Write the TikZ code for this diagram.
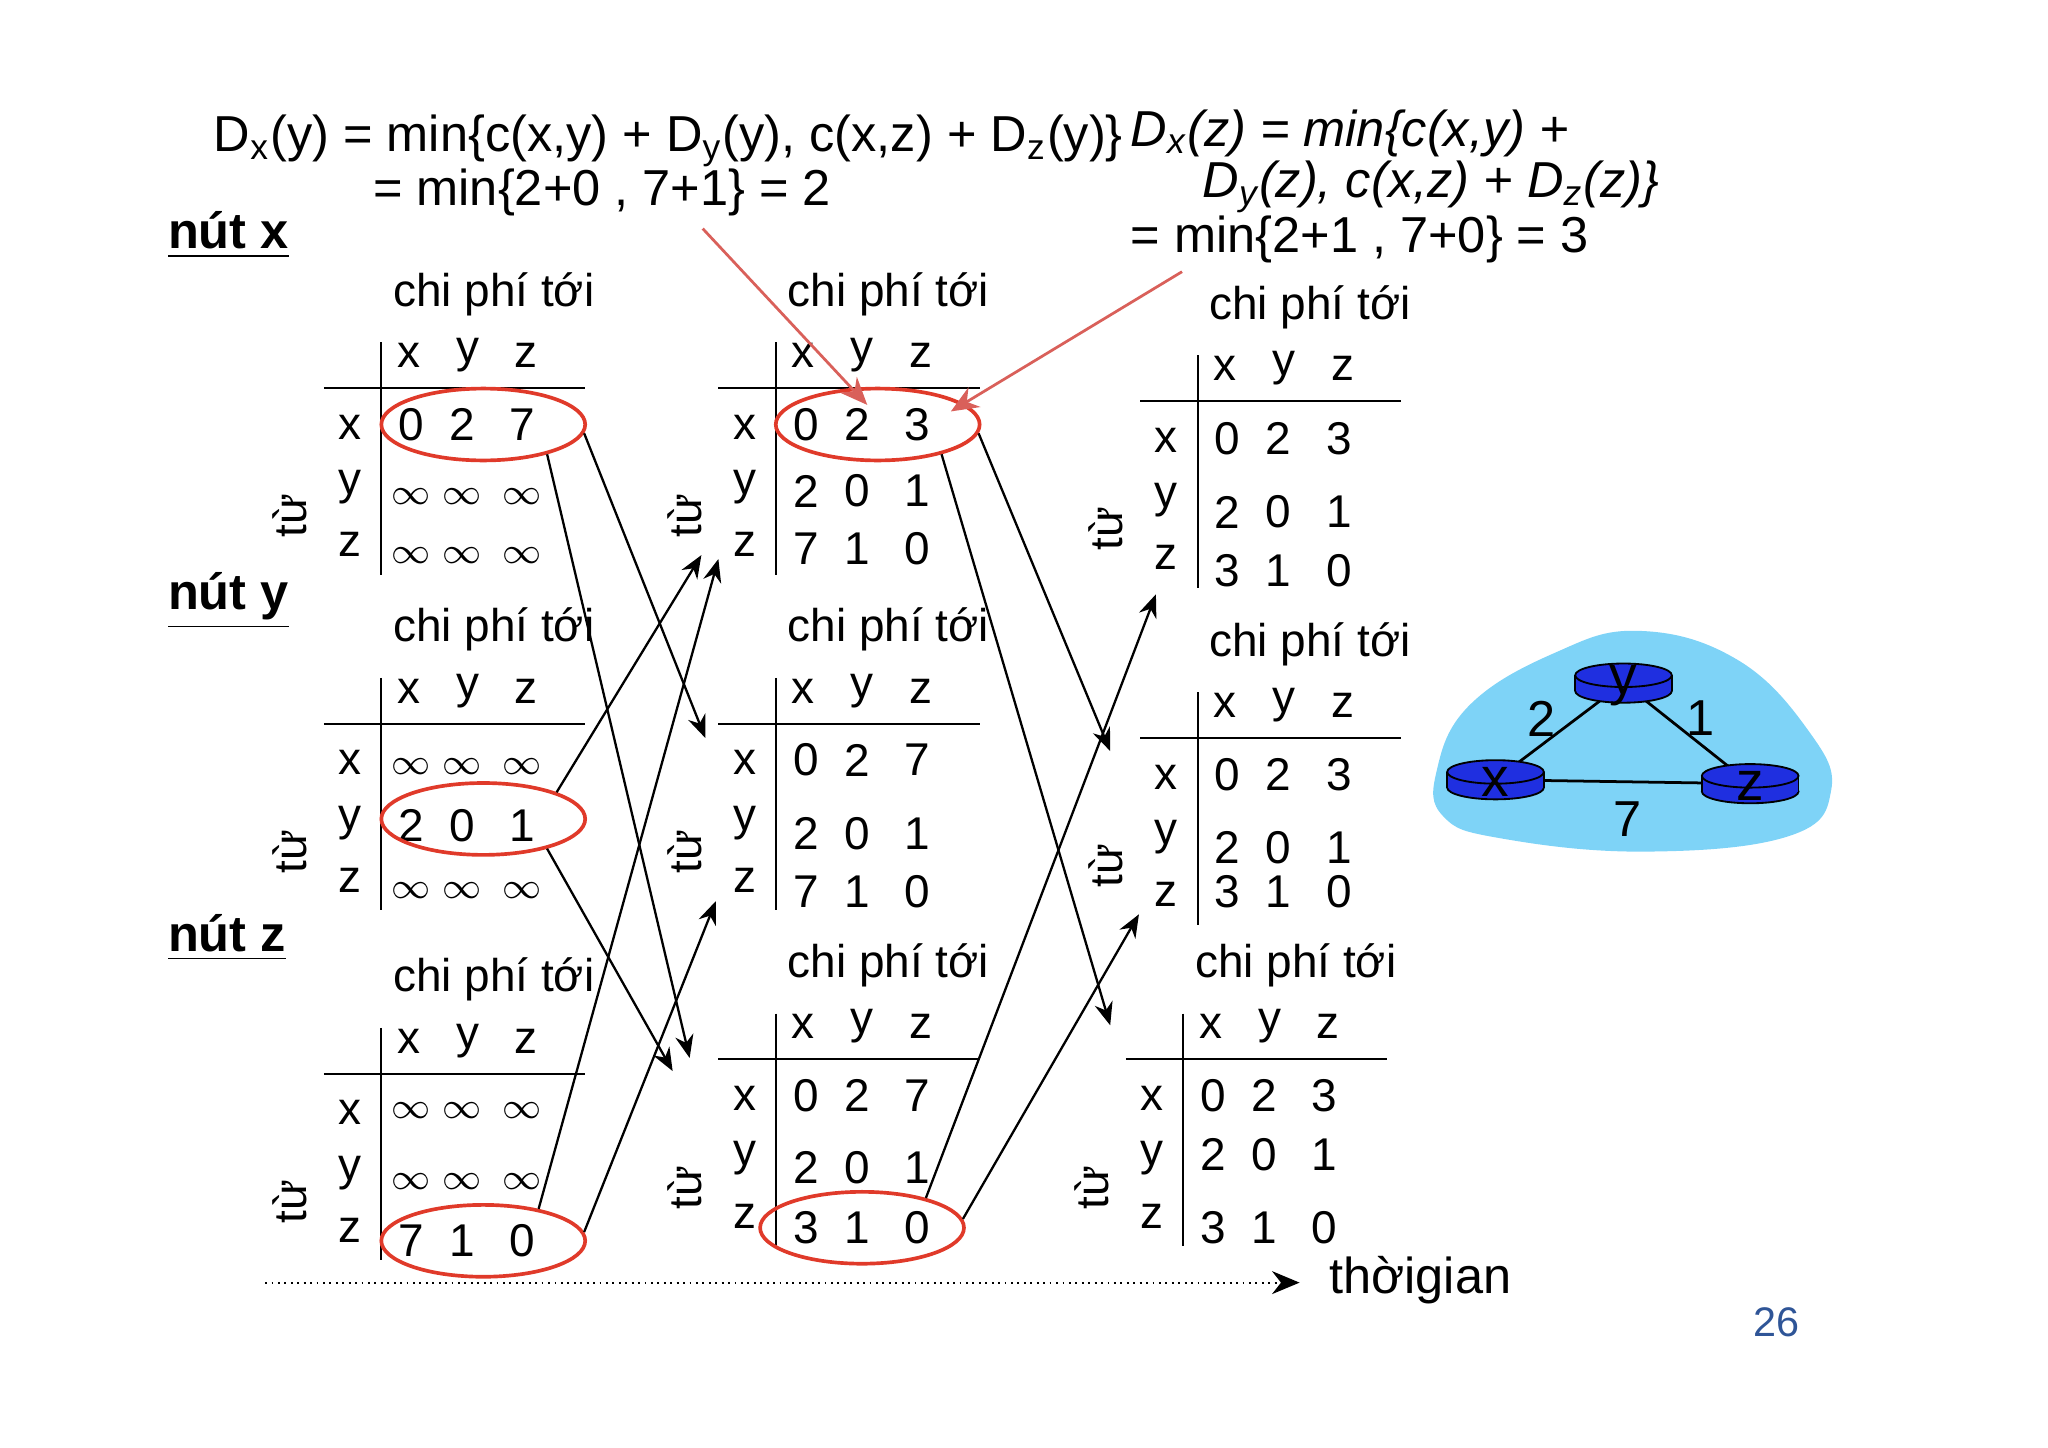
\documentclass[tikz,border=0pt]{standalone}
\usepackage{fontspec}
\setmainfont{Liberation Sans}
\usetikzlibrary{shapes.geometric,arrows.meta}
\definecolor{ellred}{HTML}{E03A2A}
\definecolor{redarr}{HTML}{D9605A}
\definecolor{cloudc}{HTML}{7ED3F7}
\definecolor{rblue}{HTML}{1F2FE0}
\definecolor{pgnum}{HTML}{2F5597}
\tikzset{
 txt/.style={font=\fontsize{10}{12}\selectfont,inner sep=0pt,anchor=center},
 big/.style={font=\fontsize{11}{13}\selectfont,inner sep=0pt,anchor=west},
 ell/.style={ellipse,draw=ellred,thick,minimum width=1.56cm,minimum height=0.55cm,inner sep=0pt},
 arr/.style={-{Stealth[length=5pt,width=4pt]},line width=0.5pt},
 rarr/.style={-{Stealth[length=6pt,width=5pt]},draw=redarr,line width=0.6pt},
 nut/.style={font=\fontsize{11}{13}\selectfont\bfseries,inner sep=0pt,anchor=west}
}
\newcommand\oo{{\fontsize{8}{10}\selectfont$\infty$}}
\newcommand\dvtab[2]{%
\begin{scope}[shift={(#2)}]
\node[txt] (#1-t) at (86,-72) {chi phí tới};
\node[txt] (#1-hx) at (21,-25) {x};
\node[txt] (#1-hy) at (66,-25) {y};
\node[txt] (#1-hz) at (111,-25) {z};
\draw (-44,0)--(156,0); \draw (0,-35)--(0,143);
\node[txt] (#1-rx) at (-24,30) {x};
\node[txt] (#1-ry) at (-24,76) {y};
\node[txt] (#1-rz) at (-24,120) {z};
\node[txt,rotate=90] (#1-tu) at (-70,98) {từ};
\end{scope}}
\newcommand\dvrow[6]{%
\begin{scope}[shift={(#2)}]
\node[txt] (#1a) at (23,#3) {#4};
\node[txt] (#1b) at (62,#3) {#5};
\node[txt] (#1c) at (108,#3) {#6};
\end{scope}}
\newcommand\router[3]{%
\begin{scope}[shift={(#2)}]
\filldraw[fill=rblue,draw=black,line width=0.4pt] (0,6) ellipse [x radius=37,y radius=9];
\fill[rblue] (-37,-6) rectangle (37,6);
\draw[line width=0.4pt] (-37,-6)--(-37,6) (37,-6)--(37,6);
\filldraw[fill=rblue,draw=black,line width=0.4pt] (0,-6) ellipse [x radius=37,y radius=9];
\node[font=\fontsize{12}{14}\selectfont,inner sep=0pt] (#1) at (0,2) {#3};
\end{scope}}
\begin{document}
\begin{tikzpicture}[x=0.01cm,y=-0.01cm]
\useasboundingbox (0,0) rectangle (1568,1108);
% formulas
\node[big] (f1) at (163,108) {D\textsubscript{x}(y) = min\{c(x,y) + D\textsubscript{y}(y), c(x,z) + D\textsubscript{z}(y)\}};
\node[big] (f2) at (285,147) {= min\{2+0 , 7+1\} = 2};
\node[big] (g1) at (865,102) {\itshape D\textsubscript{x}(z) = min\{c(x,y) +};
\node[big] (g2) at (920,143) {\itshape D\textsubscript{y}(z), c(x,z) + D\textsubscript{z}(z)\}};
\node[big] (g3) at (865,183) {= min\{2+1 , 7+0\} = 3};
% node labels
\node[nut] (nx) at (128,180) {\underline{nút x}};
\node[nut] (ny) at (128,460) {\underline{nút y}};
\node[nut] (nz) at (128,718) {\underline{nút z}};
% tables
\dvtab{t11}{292,297}
\dvrow{t11x}{292,297}{28}{0}{2}{7}
\dvrow{t11y}{292,297}{83}{\oo}{\oo}{\oo}
\dvrow{t11z}{292,297}{128}{\oo}{\oo}{\oo}
\dvtab{t12}{594,297}
\dvrow{t12x}{594,297}{28}{0}{2}{3}
\dvrow{t12y}{594,297}{79}{2}{0}{1}
\dvrow{t12z}{594,297}{123}{7}{1}{0}
\dvtab{t13}{917,307}
\dvrow{t13x}{917,307}{29}{0}{2}{3}
\dvrow{t13y}{917,307}{85}{2}{0}{1}
\dvrow{t13z}{917,307}{130}{3}{1}{0}
\dvtab{t21}{292,554}
\dvrow{t21x}{292,554}{33}{\oo}{\oo}{\oo}
\dvrow{t21y}{292,554}{78}{2}{0}{1}
\dvrow{t21z}{292,554}{128}{\oo}{\oo}{\oo}
\dvtab{t22}{594,554}
\dvrow{t22x}{594,554}{28}{0}{2}{7}
\dvrow{t22y}{594,554}{84}{2}{0}{1}
\dvrow{t22z}{594,554}{129}{7}{1}{0}
\dvtab{t23}{917,565}
\dvrow{t23x}{917,565}{28}{0}{2}{3}
\dvrow{t23y}{917,565}{84}{2}{0}{1}
\dvrow{t23z}{917,565}{118}{3}{1}{0}
\dvtab{t31}{292,822}
\dvrow{t31x}{292,822}{28}{\oo}{\oo}{\oo}
\dvrow{t31y}{292,822}{83}{\oo}{\oo}{\oo}
\dvrow{t31z}{292,822}{128}{7}{1}{0}
\dvtab{t32}{594,811}
\dvrow{t32x}{594,811}{28}{0}{2}{7}
\dvrow{t32y}{594,811}{83}{2}{0}{1}
\dvrow{t32z}{594,811}{129}{3}{1}{0}
\dvtab{t33}{906,811}
\dvrow{t33x}{906,811}{28}{0}{2}{3}
\dvrow{t33y}{906,811}{73}{2}{0}{1}
\dvrow{t33z}{906,811}{129}{3}{1}{0}
% ellipses
\node[ell] (e11) at (370,325) {};
\node[ell] (e12) at (672,325) {};
\node[ell] (e21) at (370,627) {};
\node[ell] (e31) at (370,950) {};
\node[ell] (e32) at (660,940) {};
% black arrows
\coordinate (a1) at (540,565); \coordinate (a2) at (528,810);
\coordinate (a3) at (550,428); \coordinate (a4) at (515,820);
\coordinate (a5) at (537,425); \coordinate (a6) at (548,690);
\coordinate (a7) at (850,575); \coordinate (a8) at (850,785);
\coordinate (a9) at (885,455); \coordinate (a10) at (872,700);
\draw[arr] (e11.-5) -- (a1);
\draw[arr] (e11.-25) -- (a2);
\draw[arr] (e21.20) -- (a5);
\draw[arr] (e21.-25) -- (a4);
\draw[arr] (e31.30) -- (a3);
\draw[arr] (e31.5) -- (a6);
\draw[arr] (e12.-5) -- (a7);
\draw[arr] (e12.-25) -- (a8);
\draw[arr] (e32.25) -- (a9);
\draw[arr] (e32.5) -- (a10);
% red arrows
\coordinate (r1) at (538,175); \coordinate (r1e) at (664,310);
\coordinate (r2) at (905,208); \coordinate (r2e) at (728,315);
\draw[rarr] (r1) -- (r1e);
\draw[rarr] (r2) -- (r2e);
% time axis
\coordinate (ts) at (203,982); \coordinate (te) at (995,982);
\draw[densely dotted,-{Stealth[length=6pt,width=5pt]}] (ts) -- (te);
\node[txt,anchor=west,font=\fontsize{11}{13}\selectfont] (tg) at (1017,980) {thờigian};
\node[txt,text=pgnum,font=\fontsize{9}{11}\selectfont] (pg) at (1360,1012) {26};
% network
\fill[cloudc] plot[smooth cycle,tension=0.7] coordinates {(1100,590) (1125,540) (1190,500) (1255,483) (1330,505) (1385,560) (1402,605) (1370,640) (1260,652) (1150,642) (1105,625)};
\coordinate (cy) at (1243,523); \coordinate (cx) at (1145,597); \coordinate (cz) at (1340,600);
\draw[line width=0.6pt] (cx) -- (cy) -- (cz) -- (cx);
\router{ry}{1243,523}{y}
\router{rx}{1145,597}{x}
\router{rz}{1340,600}{z}
\node[txt,font=\fontsize{11}{13}\selectfont] (l2) at (1180,550) {2};
\node[txt,font=\fontsize{11}{13}\selectfont] (l1) at (1302,550) {1};
\node[txt,font=\fontsize{11}{13}\selectfont] (l7) at (1246,627) {7};
\end{tikzpicture}
\end{document}
